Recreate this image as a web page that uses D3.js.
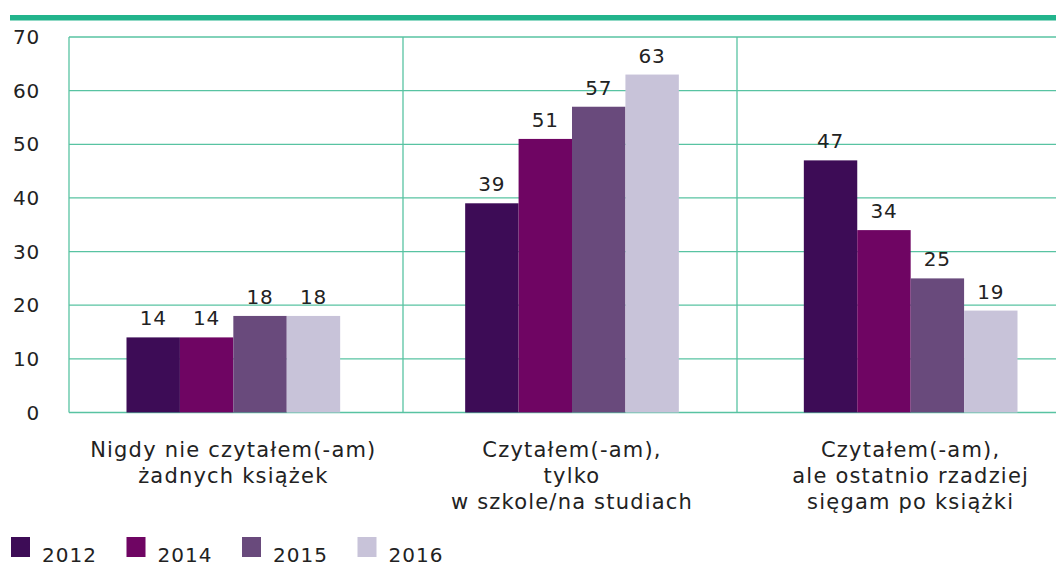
<!DOCTYPE html>
<html>
<head>
<meta charset="utf-8">
<script src="https://cdn.jsdelivr.net/npm/d3@7"></script>
<style>
  body { margin: 0; background: #fff; }
  svg { display: block; font-family: "DejaVu Sans", sans-serif; }
</style>
</head>
<body>
<svg id="chart" width="1056" height="566"></svg>
<script>
// data
const categories = [
    ["Nigdy nie czytałem(-am)", "żadnych książek"],
    ["Czytałem(-am),", "tylko", "w szkole/na studiach"],
    ["Czytałem(-am),", "ale ostatnio rzadziej", "sięgam po książki"]
];
const years = ["2012", "2014", "2015", "2016"];
const values2012 = [14, 39, 47];
const values2014 = [14, 51, 34];
const values2015 = [18, 57, 25];
const values2016 = [18, 63, 19];
const yTicks = [0, 10, 20, 30, 40, 50, 60, 70];
const colors = ["#3d0c56", "#6f0563", "#694a7c", "#c8c3d9"];

const series = [values2012, values2014, values2015, values2016];

const svg = d3.select("#chart");
const plotLeft = 69, plotRight = 1071, plotTop = 37, plotBottom = 412.5;
const gridColor = "#58c3a2";
const textColor = "#222";

// thick band at the very top
svg.append("rect")
    .attr("x", 10).attr("y", 15)
    .attr("width", 1046).attr("height", 5.5)
    .attr("fill", "#22b48c");

// group frames
const x = d3.scaleBand()
    .domain(d3.range(categories.length))
    .range([plotLeft, plotRight]);
// bar groups sit a little wider apart than the frames
const xBars = d3.scaleBand()
    .domain(d3.range(categories.length))
    .range([64, 1080]);
const xInner = d3.scaleBand()
    .domain(years)
    .range([0, xBars.bandwidth()])
    .paddingOuter(1.17);
const y = d3.scaleLinear().domain([0, 70]).range([plotBottom, plotTop]);

// horizontal grid
svg.append("g")
    .selectAll("line")
    .data(yTicks)
    .join("line")
    .attr("x1", plotLeft).attr("x2", plotRight)
    .attr("y1", d => y(d)).attr("y2", d => y(d))
    .attr("stroke", gridColor).attr("stroke-width", 1.3);

// vertical separators between groups
svg.append("g")
    .selectAll("line")
    .data(d3.range(categories.length))
    .join("line")
    .attr("x1", d => x(d)).attr("x2", d => x(d))
    .attr("y1", plotTop).attr("y2", plotBottom)
    .attr("stroke", gridColor).attr("stroke-width", 1.3);

// y tick labels
svg.append("g")
    .selectAll("text")
    .data(yTicks)
    .join("text")
    .attr("x", 40)
    .attr("y", d => y(d) + 7)
    .attr("text-anchor", "end")
    .attr("font-size", 20)
    .attr("letter-spacing", 0.8)
    .attr("fill", textColor)
    .text(d => d);

// bars
const groups = svg.append("g")
    .selectAll("g")
    .data(categories.map((c, i) => i))
    .join("g")
    .attr("transform", i => `translate(${xBars(i)},0)`);

groups.selectAll("rect")
    .data(i => years.map((yr, k) => ({ yr, k, v: series[k][i] })))
    .join("rect")
    .attr("x", d => xInner(d.yr))
    .attr("width", xInner.bandwidth())
    .attr("y", d => y(d.v))
    .attr("height", d => plotBottom - y(d.v))
    .attr("fill", d => colors[d.k]);

groups.selectAll("text")
    .data(i => years.map((yr, k) => ({ yr, k, v: series[k][i] })))
    .join("text")
    .attr("x", d => xInner(d.yr) + xInner.bandwidth() / 2)
    .attr("y", d => y(d.v) - 12)
    .attr("text-anchor", "middle")
    .attr("font-size", 20)
    .attr("letter-spacing", 0.8)
    .attr("fill", textColor)
    .text(d => d.v);

// category labels
svg.append("g")
    .selectAll("text")
    .data(categories)
    .join("text")
    .attr("x", (d, i) => xBars(i) + xBars.bandwidth() / 2)
    .attr("y", 457)
    .attr("text-anchor", "middle")
    .attr("font-size", 21)
    .attr("letter-spacing", 1.2)
    .attr("fill", textColor)
    .selectAll("tspan")
    .data(d => d)
    .join("tspan")
    .attr("x", function() { return this.parentNode.getAttribute("x"); })
    .attr("dy", (d, i) => i === 0 ? 0 : 26)
    .text(d => d);

// legend
const legend = svg.append("g")
    .selectAll("g")
    .data(years)
    .join("g")
    .attr("transform", (d, i) => `translate(${11 + i * 115.5},537)`);
legend.append("rect")
    .attr("width", 19).attr("height", 20)
    .attr("fill", (d, i) => colors[i]);
legend.append("text")
    .attr("x", 31).attr("y", 25)
    .attr("font-size", 20)
    .attr("letter-spacing", 1)
    .attr("fill", textColor)
    .text(d => d);
</script>
</body>
</html>
